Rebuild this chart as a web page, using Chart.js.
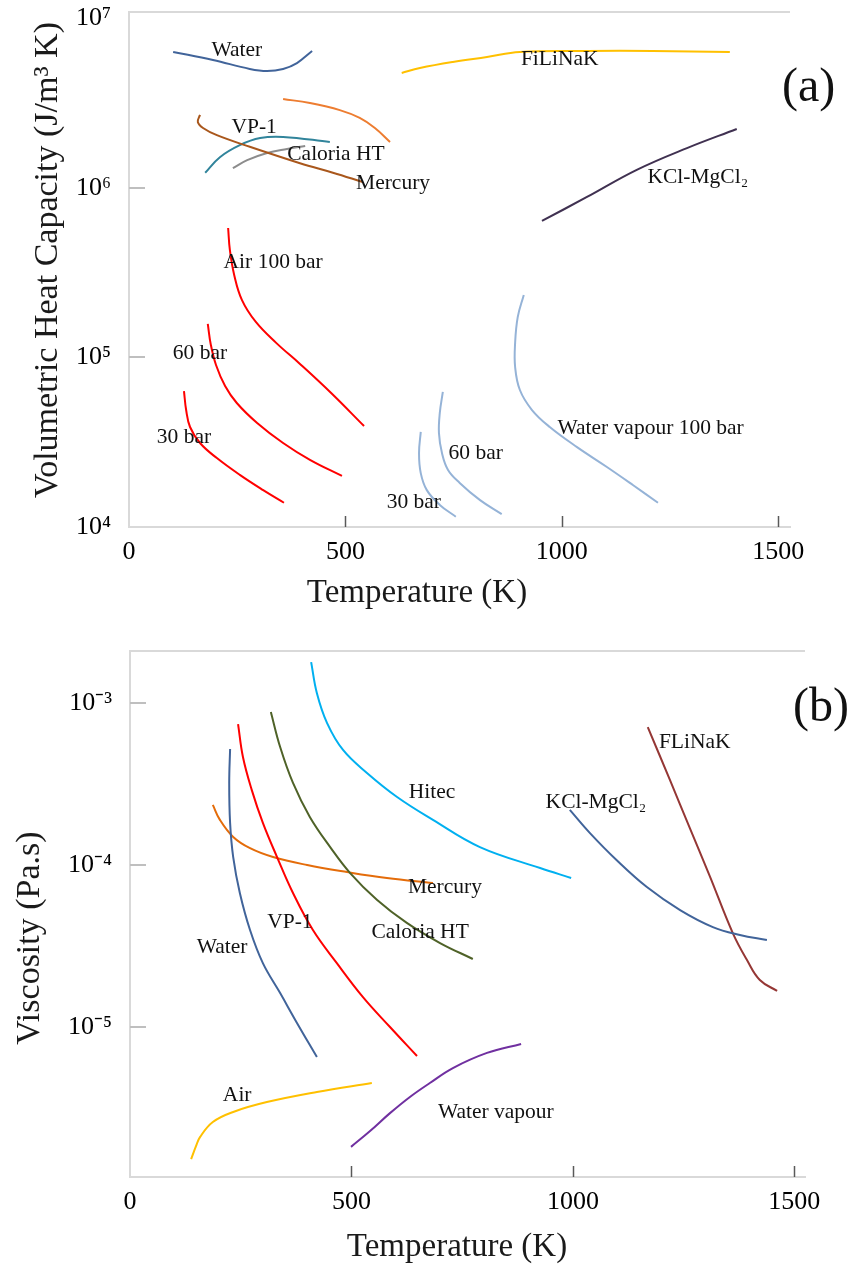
<!DOCTYPE html>
<html><head><meta charset="utf-8">
<script src="https://cdn.jsdelivr.net/npm/chart.js@4.4.0/dist/chart.umd.min.js"></script>
<style>
html,body{margin:0;padding:0;background:#fff;}
#wrap{position:relative;width:855px;height:1273px;overflow:hidden;background:#fff;}
#ca{position:absolute;left:0;top:0;}
#cb{position:absolute;left:0;top:630px;}
</style></head><body>
<div id="wrap"><canvas id="ca" width="855" height="630"></canvas><canvas id="cb" width="855" height="643"></canvas></div>
<script>
// ---------- tick values ----------
const xTicks = [0, 500, 1000, 1500];
const capTicks = [1e4, 1e5, 1e6, 1e7];
const viscTicks = [1e-5, 1e-4, 1e-3];

// ---------- (a) volumetric heat capacity, J/m3K vs temperature, K ----------
const capWaterT = [102, 194, 279, 319, 356, 388, 423];
const capWater  = [6.35e6, 5.69e6, 5.04e6, 4.90e6, 5.04e6, 5.46e6, 6.43e6];
const capHitecT = [356, 418, 487, 533, 568, 603];
const capHitec  = [3.35e6, 3.17e6, 2.88e6, 2.59e6, 2.26e6, 1.87e6];
const capMercuryT = [164, 159, 171, 203, 279, 395, 471, 540];
const capMercury  = [2.70e6, 2.45e6, 2.26e6, 2.05e6, 1.75e6, 1.40e6, 1.23e6, 1.085e6];
const capVP1T = [176, 210, 256, 303, 356, 464];
const capVP1  = [1.23e6, 1.52e6, 1.79e6, 1.97e6, 2.0e6, 1.87e6];
const capCaloriaT = [240, 273, 319, 365, 407];
const capCaloria  = [1.31e6, 1.46e6, 1.61e6, 1.70e6, 1.77e6];
const capFlinakT = [630, 672, 748, 827, 903, 1058, 1210, 1388];
const capFlinak  = [4.77e6, 5.10e6, 5.54e6, 5.93e6, 6.35e6, 6.43e6, 6.43e6, 6.35e6];
const capKclT = [954, 1058, 1173, 1289, 1404];
const capKcl  = [6.39e5, 8.85e5, 1.28e6, 1.72e6, 2.23e6];
const capAir100T = [229, 233, 243, 261, 293, 340, 395, 467, 543];
const capAir100  = [5.81e5, 4.31e5, 3.07e5, 2.18e5, 1.62e5, 1.22e5, 9.16e4, 6.17e4, 3.94e4];
const capAir60T = [182, 189, 201, 222, 249, 296, 356, 418, 492];
const capAir60  = [1.58e5, 1.19e5, 9.03e4, 6.79e4, 5.39e4, 4.11e4, 3.13e4, 2.49e4, 2.0e4];
const capAir30T = [127, 132, 141, 164, 203, 256, 310, 358];
const capAir30  = [6.34e4, 4.90e4, 3.89e4, 3.13e4, 2.55e4, 2.03e4, 1.65e4, 1.39e4];
const capVap100T = [912, 898, 892, 892, 903, 931, 972, 1035, 1104, 1164, 1222];
const capVap100  = [2.34e5, 1.73e5, 1.22e5, 8.79e4, 6.43e4, 4.90e4, 3.89e4, 2.96e4, 2.26e4, 1.77e4, 1.39e4];
const capVap60T = [725, 718, 716, 723, 737, 764, 811, 861];
const capVap60  = [6.26e4, 4.71e4, 3.59e4, 2.73e4, 2.17e4, 1.82e4, 1.44e4, 1.19e4];
const capVap30T = [674, 670, 674, 688, 718, 755];
const capVap30  = [3.64e4, 2.73e4, 2.08e4, 1.65e4, 1.35e4, 1.15e4];

const capLabelText = ['Water', 'VP-1', 'Caloria HT', 'Mercury', 'FiLiNaK', 'KCl-MgCl\u2082', 'Air 100 bar', '60 bar', '30 bar', 'Water vapour 100 bar', '60 bar', '30 bar'];
const capLabelT = [249, 289, 478, 610, 995, 1314, 333, 164, 127, 1205, 801, 658];
const capLabelV = [6.52e6, 2.29e6, 1.57e6, 1.07e6, 5.77e6, 1.16e6, 3.66e5, 1.06e5, 3.40e4, 3.84e4, 2.73e4, 1.39e4];

// ---------- (b) viscosity, Pa.s vs temperature, K ----------
const viscWaterT = [226, 224, 226, 233, 248, 271, 300, 339, 377, 422];
const viscWater  = [5.20e-4, 3.21e-4, 1.82e-4, 1.12e-4, 6.72e-5, 3.97e-5, 2.48e-5, 1.62e-5, 1.06e-5, 6.53e-6];
const viscVP1T = [244, 255, 275, 300, 332, 368, 413, 467, 526, 587, 648];
const viscVP1  = [7.42e-4, 4.64e-4, 2.90e-4, 1.82e-4, 1.12e-4, 6.72e-5, 3.97e-5, 2.48e-5, 1.53e-5, 1.0e-5, 6.62e-6];
const viscCaloriaT = [318, 339, 368, 406, 452, 497, 558, 625, 700, 774];
const viscCaloria  = [8.80e-4, 5.35e-4, 3.21e-4, 1.98e-4, 1.29e-4, 8.92e-5, 6.08e-5, 4.39e-5, 3.30e-5, 2.63e-5];
const viscMercuryT = [187, 203, 233, 271, 323, 400, 490, 580, 684];
const viscMercury  = [2.35e-4, 1.90e-4, 1.49e-4, 1.27e-4, 1.12e-4, 1.0e-4, 9.05e-5, 8.31e-5, 7.74e-5];
const viscHitecT = [409, 422, 445, 481, 535, 603, 684, 790, 926, 996];
const viscHitec  = [1.79e-3, 1.15e-3, 7.52e-4, 5.13e-4, 3.70e-4, 2.63e-4, 1.90e-4, 1.29e-4, 9.58e-5, 8.31e-5];
const viscKclT = [993, 1038, 1099, 1167, 1242, 1316, 1377, 1438];
const viscKcl  = [2.19e-4, 1.58e-4, 1.07e-4, 7.31e-5, 5.27e-5, 4.14e-5, 3.70e-5, 3.44e-5];
const viscFlinakT = [1169, 1219, 1264, 1309, 1361, 1393, 1422, 1461];
const viscFlinak  = [7.11e-4, 3.35e-4, 1.69e-4, 8.55e-5, 3.80e-5, 2.59e-5, 1.95e-5, 1.67e-5];
const viscAirT = [138, 149, 158, 187, 233, 309, 422, 546];
const viscAir  = [1.53e-6, 1.84e-6, 2.09e-6, 2.59e-6, 2.99e-6, 3.44e-6, 3.97e-6, 4.51e-6];
const viscVapourT = [499, 542, 587, 632, 677, 729, 806, 883];
const viscVapour  = [1.82e-6, 2.28e-6, 2.94e-6, 3.70e-6, 4.51e-6, 5.58e-6, 6.92e-6, 7.86e-6];

const viscLabelText = ['Hitec', 'KCl-MgCl\u2082', 'FLiNaK', 'Mercury', 'Caloria HT', 'VP-1', 'Water', 'Air', 'Water vapour'];
const viscLabelT = [682, 1052, 1275, 711, 655, 361, 208, 242, 826];
const viscLabelV = [2.82e-4, 2.45e-4, 5.74e-4, 7.31e-5, 3.86e-5, 4.45e-5, 3.12e-5, 3.80e-6, 2.99e-6];

// ---------- helpers ----------
const SERIF = '"Liberation Serif", "Times New Roman", serif';
Chart.defaults.font.family = SERIF;
const SUP = {'0':'\u2070','1':'\u00b9','2':'\u00b2','3':'\u00b3','4':'\u2074','5':'\u2075','6':'\u2076','7':'\u2077','8':'\u2078','9':'\u2079','-':'\u207b'};
function pow10Label(v){
  const e = String(Math.round(Math.log10(v)));
  return '10' + e.split('').map(c => SUP[c]).join('');
}
function ds(T, V, color){
  return {data: T.map((t, i) => ({x: t, y: V[i]})), borderColor: color, backgroundColor: color,
    borderWidth: 2, pointRadius: 0, pointHoverRadius: 0, showLine: true, tension: 0.4, fill: false};
}
function decor(cfg){
  return {
    id: 'decor',
    afterDraw(chart){
      const ctx = chart.ctx, a = chart.chartArea, x = chart.scales.x, y = chart.scales.y;
      ctx.save();
      ctx.strokeStyle = '#d9d9d9'; ctx.lineWidth = 2;
      ctx.beginPath(); ctx.moveTo(a.left - 1, a.top); ctx.lineTo(a.right, a.top); ctx.stroke();
      ctx.strokeStyle = '#bfbfbf'; ctx.lineWidth = 2;
      cfg.yMarks.forEach(v => { const py = Math.round(y.getPixelForValue(v));
        ctx.beginPath(); ctx.moveTo(a.left, py); ctx.lineTo(a.left + 16, py); ctx.stroke(); });
      ctx.strokeStyle = '#595959'; ctx.lineWidth = 1.5;
      xTicks.slice(1).forEach(v => { const px = Math.round(x.getPixelForValue(v)) + 0.5;
        ctx.beginPath(); ctx.moveTo(px, a.bottom); ctx.lineTo(px, a.bottom - 11); ctx.stroke(); });
      ctx.fillStyle = '#111'; ctx.font = '21.5px ' + SERIF; ctx.textAlign = 'center'; ctx.textBaseline = 'middle';
      cfg.labText.forEach((t, i) => ctx.fillText(t, x.getPixelForValue(cfg.labT[i]), y.getPixelForValue(cfg.labV[i])));
      ctx.font = '48px ' + SERIF; ctx.textAlign = 'left';
      ctx.fillText(cfg.tag, cfg.tagX, cfg.tagY);
      ctx.fillStyle = '#1a1a1a';
      ctx.font = '33px ' + SERIF; ctx.textAlign = 'center';
      ctx.fillText(cfg.xTitle, cfg.xTitleX, cfg.xTitleY);
      ctx.font = '34px ' + SERIF;
      ctx.translate(cfg.yTitleX, cfg.yTitleY); ctx.rotate(-Math.PI / 2);
      ctx.fillText(cfg.yTitle, 0, 0);
      ctx.restore();
    }
  };
}
function scales(xMax, yMin, yMax, yTicks, xH, yW){
  return {
    x: {type: 'linear', min: 0, max: xMax,
      afterBuildTicks: s => { s.ticks = xTicks.map(v => ({value: v})); },
      afterFit: s => { s.height = xH; s.paddingLeft = 0; s.paddingRight = 0; },
      grid: {display: false, drawTicks: false}, border: {color: '#d9d9d9', width: 2},
      ticks: {callback: v => String(v), font: {family: SERIF, size: 26}, color: '#000', padding: 10, maxRotation: 0, autoSkip: false}},
    y: {type: 'logarithmic', min: yMin, max: yMax,
      afterBuildTicks: s => { s.ticks = yTicks.map(v => ({value: v})); },
      afterFit: s => { s.width = yW; s.paddingTop = 0; s.paddingBottom = 0; },
      grid: {display: false, drawTicks: false}, border: {color: '#d9d9d9', width: 2},
      ticks: {callback: v => pow10Label(v), font: {family: SERIF, size: 26}, color: '#000', padding: 18, autoSkip: false}}
  };
}
const common = {responsive: false, animation: false, events: [],
  plugins: {legend: {display: false}, tooltip: {enabled: false}}};

new Chart(document.getElementById('ca'), {
  type: 'scatter',
  data: {datasets: [
    ds(capWaterT, capWater, '#41649a'),
    ds(capHitecT, capHitec, '#ed7d31'),
    ds(capMercuryT, capMercury, '#a9571c'),
    ds(capVP1T, capVP1, '#31849b'),
    ds(capCaloriaT, capCaloria, '#8c8c8c'),
    ds(capFlinakT, capFlinak, '#ffc000'),
    ds(capKclT, capKcl, '#403151'),
    ds(capAir100T, capAir100, '#ff0000'),
    ds(capAir60T, capAir60, '#ff0000'),
    ds(capAir30T, capAir30, '#ff0000'),
    ds(capVap100T, capVap100, '#95b3d7'),
    ds(capVap60T, capVap60, '#95b3d7'),
    ds(capVap30T, capVap30, '#95b3d7')
  ]},
  options: Object.assign({}, common, {
    layout: {padding: {top: 12, right: 65, left: 0, bottom: 0}},
    scales: scales(1527, 1e4, 1.092e7, capTicks, 103, 129)
  }),
  plugins: [decor({yMarks: [1e5, 1e6], labText: capLabelText, labT: capLabelT, labV: capLabelV,
    tag: '(a)', tagX: 782, tagY: 88, xTitle: 'Temperature (K)', xTitleX: 417, xTitleY: 593,
    yTitle: 'Volumetric Heat Capacity (J/m\u00b3 K)', yTitleX: 48, yTitleY: 260})]
});

new Chart(document.getElementById('cb'), {
  type: 'scatter',
  data: {datasets: [
    ds(viscWaterT, viscWater, '#41649a'),
    ds(viscVP1T, viscVP1, '#ff0000'),
    ds(viscCaloriaT, viscCaloria, '#4f6228'),
    ds(viscMercuryT, viscMercury, '#e46c0a'),
    ds(viscHitecT, viscHitec, '#00b0f0'),
    ds(viscKclT, viscKcl, '#41649a'),
    ds(viscFlinakT, viscFlinak, '#953735'),
    ds(viscAirT, viscAir, '#ffc000'),
    ds(viscVapourT, viscVapour, '#7030a0')
  ]},
  options: Object.assign({}, common, {
    layout: {padding: {top: 21, right: 50, left: 0, bottom: 0}},
    scales: scales(1524, 1.186e-6, 2.095e-3, viscTicks, 96, 130)
  }),
  plugins: [decor({yMarks: viscTicks, labText: viscLabelText, labT: viscLabelT, labV: viscLabelV,
    tag: '(b)', tagX: 793, tagY: 78, xTitle: 'Temperature (K)', xTitleX: 457, xTitleY: 617,
    yTitle: 'Viscosity (Pa.s)', yTitleX: 30, yTitleY: 308})]
});
</script>
</body></html>
